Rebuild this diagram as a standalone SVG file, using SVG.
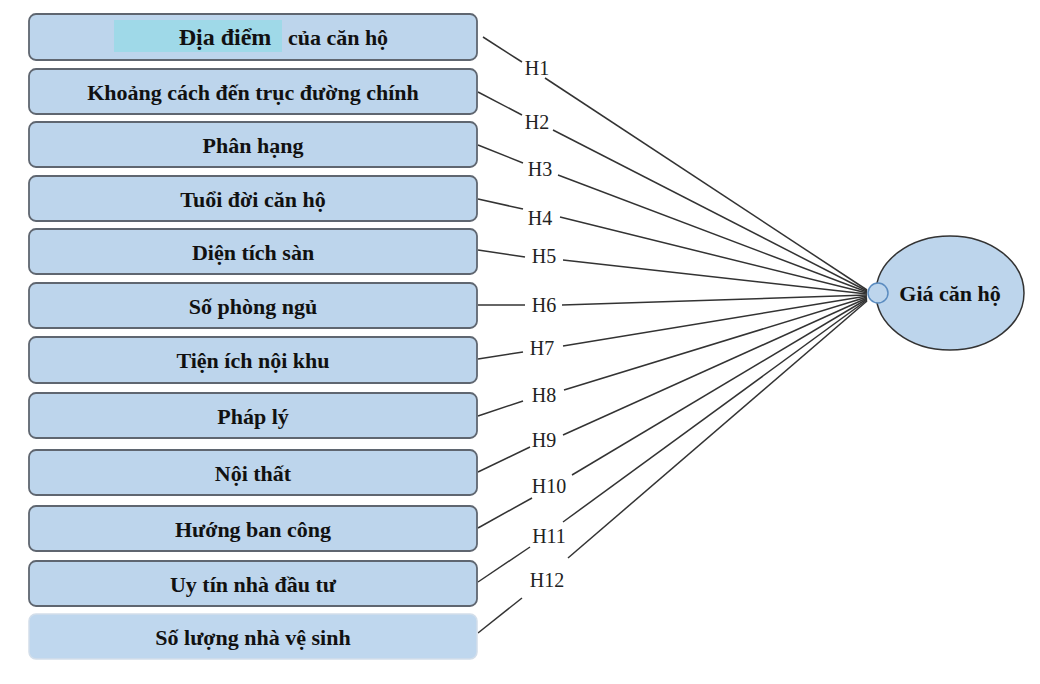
<svg xmlns="http://www.w3.org/2000/svg" width="1040" height="684" viewBox="0 0 1040 684">
<style>
.box{fill:#bdd5ec;stroke:#5f6670;stroke-width:1.8}
.box2{fill:#bfd7ee;stroke:#d3deea;stroke-width:1.5}
.t{font-family:"Liberation Serif",serif;font-weight:bold;font-size:22px;fill:#111;text-anchor:middle}
.h{font-family:"Liberation Serif",serif;font-size:20px;fill:#222;text-anchor:middle}
.c line{stroke:#333;stroke-width:1.5}
</style>
<rect width="1040" height="684" fill="#fff"/>
<g class="c" id="connectors">
<line x1="483" y1="37" x2="522" y2="62"/><line x1="545" y1="78" x2="867" y2="290"/>
<line x1="478" y1="92" x2="522" y2="115"/><line x1="553" y1="130" x2="867" y2="291"/>
<line x1="478" y1="145" x2="523" y2="163"/><line x1="558" y1="175" x2="867" y2="292"/>
<line x1="478" y1="199" x2="523" y2="209"/><line x1="560" y1="217" x2="867" y2="293"/>
<line x1="478" y1="250" x2="525" y2="257"/><line x1="563" y1="260" x2="867" y2="294"/>
<line x1="478" y1="305" x2="525" y2="305"/><line x1="562" y1="305" x2="867" y2="295"/>
<line x1="478" y1="359" x2="523" y2="352"/><line x1="563" y1="346" x2="867" y2="296"/>
<line x1="478" y1="416" x2="523" y2="401"/><line x1="564" y1="390" x2="867" y2="297"/>
<line x1="478" y1="472" x2="530" y2="447"/><line x1="563" y1="435" x2="867" y2="298"/>
<line x1="478" y1="528" x2="532" y2="498"/><line x1="572" y1="475" x2="867" y2="299"/>
<line x1="478" y1="582" x2="530" y2="547"/><line x1="563" y1="522" x2="867" y2="300"/>
<line x1="478" y1="633" x2="522" y2="598"/><line x1="568" y1="558" x2="867" y2="301"/>
</g>
<g id="labels">
<text class="h" x="537" y="75">H1</text>
<text class="h" x="537" y="129">H2</text>
<text class="h" x="540" y="176">H3</text>
<text class="h" x="540" y="225">H4</text>
<text class="h" x="544" y="263">H5</text>
<text class="h" x="544" y="312">H6</text>
<text class="h" x="542" y="355">H7</text>
<text class="h" x="544" y="402">H8</text>
<text class="h" x="544" y="447">H9</text>
<text class="h" x="549" y="493">H10</text>
<text class="h" x="549" y="543">H11</text>
<text class="h" x="547" y="587">H12</text>
</g>
<g id="n1"><rect class="box" x="29" y="14" width="448" height="46" rx="7"/><rect x="114" y="20" width="168" height="32" fill="#9fd9e8"/><text class="t" x="225" y="45" style="font-size:24px">Địa điểm</text><text class="t" x="338" y="45">của căn hộ</text></g>
<g id="n2"><rect class="box" x="29" y="69" width="448" height="45" rx="7"/><text class="t" x="253" y="100">Khoảng cách đến trục đường chính</text></g>
<g id="n3"><rect class="box" x="29" y="122" width="448" height="45" rx="7"/><text class="t" x="253" y="153">Phân hạng</text></g>
<g id="n4"><rect class="box" x="29" y="176" width="448" height="45" rx="7"/><text class="t" x="253" y="207">Tuổi đời căn hộ</text></g>
<g id="n5"><rect class="box" x="29" y="229" width="448" height="45" rx="7"/><text class="t" x="253" y="260">Diện tích sàn</text></g>
<g id="n6"><rect class="box" x="29" y="283" width="448" height="45" rx="7"/><text class="t" x="253" y="314">Số phòng ngủ</text></g>
<g id="n7"><rect class="box" x="29" y="337" width="448" height="46" rx="7"/><text class="t" x="253" y="368">Tiện ích nội khu</text></g>
<g id="n8"><rect class="box" x="29" y="393" width="448" height="45" rx="7"/><text class="t" x="253" y="424">Pháp lý</text></g>
<g id="n9"><rect class="box" x="29" y="450" width="448" height="45" rx="7"/><text class="t" x="253" y="481">Nội thất</text></g>
<g id="n10"><rect class="box" x="29" y="506" width="448" height="45" rx="7"/><text class="t" x="253" y="537">Hướng ban công</text></g>
<g id="n11"><rect class="box" x="29" y="561" width="448" height="45" rx="7"/><text class="t" x="253" y="592">Uy tín nhà đầu tư</text></g>
<g id="n12"><rect class="box2" x="29" y="614" width="448" height="45" rx="7"/><text class="t" x="253" y="645">Số lượng nhà vệ sinh</text></g>
<g id="target"><ellipse cx="950" cy="293" rx="74" ry="57" fill="#bdd5ec" stroke="#333" stroke-width="1.5"/><circle cx="878" cy="293" r="10" fill="#bdd5ec" stroke="#5b8cc0" stroke-width="1.5"/><text class="t" x="950" y="301">Giá căn hộ</text></g>
</svg>
